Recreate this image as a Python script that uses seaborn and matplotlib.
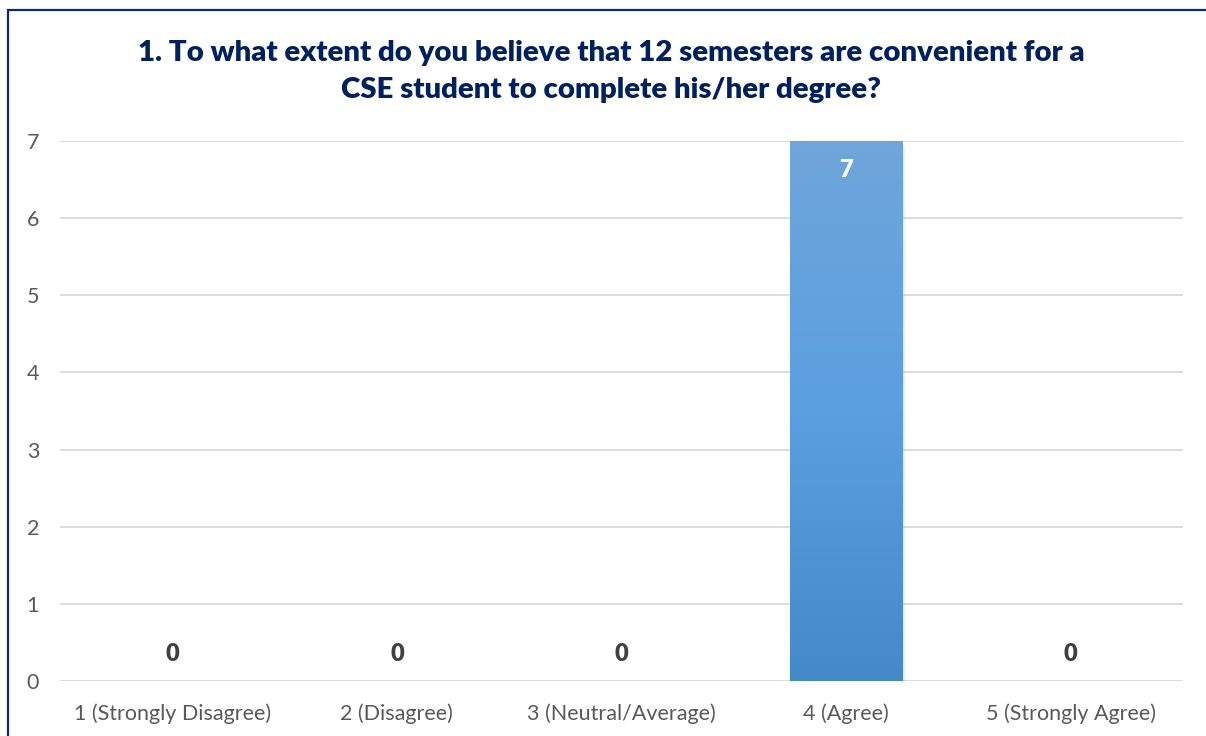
import numpy as np
import pandas as pd
import matplotlib
matplotlib.use("Agg")
import matplotlib.pyplot as plt
from matplotlib.patches import Rectangle
from matplotlib.colors import LinearSegmentedColormap
import seaborn as sns

categories = ["1 (Strongly Disagree)", "2 (Disagree)", "3 (Neutral/Average)", "4 (Agree)", "5 (Strongly Agree)"]
values = [0, 0, 0, 7, 0]
yticks = [0, 1, 2, 3, 4, 5, 6, 7]
title = "1. To what extent do you believe that 12 semesters are convenient for a\nCSE student to complete his/her degree?"

sns.set_theme(style="white")
plt.rcParams['font.family'] = ['Lato', 'DejaVu Sans']

W, H = 1206, 736
fig = plt.figure(figsize=(W / 100, H / 100), dpi=100)
ax = fig.add_axes([60 / W, 1 - 681 / H, (1183 - 60) / W, (681 - 141) / H])

df = pd.DataFrame({"cat": categories, "val": values})
sns.barplot(data=df, x="cat", y="val", ax=ax, width=0.5, color="#5B9BD5", saturation=1)

ax.set_ylim(0, 7)
ax.set_xlim(-0.5, len(categories) - 0.5)
ax.set_yticks(yticks)
ax.set_xlabel("")
ax.set_ylabel("")
for s in ax.spines.values():
    s.set_visible(False)
ax.yaxis.grid(True, color="#D9D9D9", linewidth=1.3)
ax.set_axisbelow(True)
ax.tick_params(axis="y", length=0, pad=15, labelsize=15.5, labelcolor="#595959")
ax.tick_params(axis="x", length=0, pad=16, labelsize=15.5, labelcolor="#595959")

# gradient fill + shadow for bars
cmap = LinearSegmentedColormap.from_list("g", ["#4589C9", "#5B9FE0", "#6FA6DA"])
for p, v in zip(list(ax.patches), values):
    if v <= 0:
        p.set_visible(False)
        continue
    x0, w, h = p.get_x(), p.get_width(), p.get_height()
    for k, a in enumerate([0.07, 0.05, 0.035, 0.02]):
        sh = Rectangle((x0 + 0.004 * (k + 1), -0.02 * (k + 1)), w, h, facecolor="black",
                       alpha=a, edgecolor="none", zorder=2)
        ax.add_patch(sh)
    grad = np.linspace(0, 1, 256).reshape(-1, 1)
    im = ax.imshow(grad, cmap=cmap, origin="lower", extent=[x0, x0 + w, 0, h],
                   aspect="auto", zorder=3)
    p.set_zorder(3)
    im.set_clip_path(p)
    p.set_visible(True)
    p.set_facecolor("none")

# data labels
for i, v in enumerate(values):
    if v > 0:
        ax.text(i, v - 0.38, str(v), ha="center", va="center", fontsize=17,
                fontweight="heavy", color="white", zorder=5)
    else:
        ax.text(i, 0.35, str(v), ha="center", va="center", fontsize=17,
                fontweight="heavy", color="#404040", zorder=5)

ax.set_aspect("auto")

fig.text(611 / W, 1 - 40 / H, title, ha="center", va="top", fontsize=21.2,
         fontweight="heavy", color="#002060", linespacing=1.52)

# chart frame
fig.patches.append(Rectangle((8 / W, -0.1), 1.2, 1 - 10 / H + 0.1, transform=fig.transFigure,
                             facecolor="none", edgecolor="#0B2A73", linewidth=1.6))

fig.savefig("out.png", dpi=100)
